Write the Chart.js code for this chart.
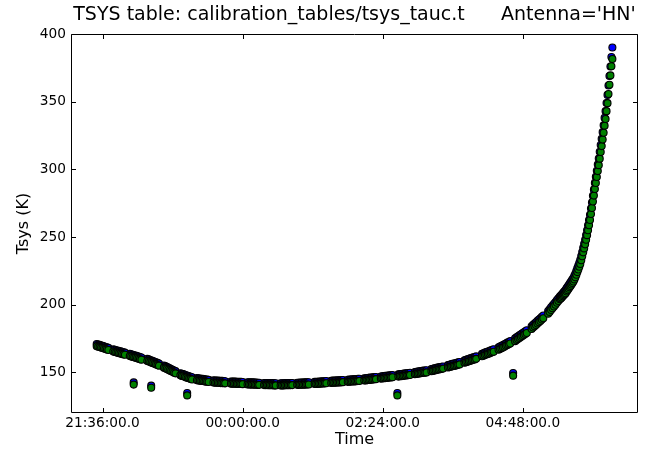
<!DOCTYPE html>
<html><head><meta charset="utf-8">
<script src="https://cdn.jsdelivr.net/npm/chart.js@4/dist/chart.umd.min.js"></script>
<style>html,body{margin:0;padding:0;background:#fff;}canvas{display:block;}</style>
</head><body>
<canvas id="c" width="649" height="452"></canvas>
<script>
const chartTitle = "TSYS table: calibration_tables/tsys_tauc.t      Antenna='HN'";
const xAxisLabel = "Time";
const yAxisLabel = "Tsys (K)";
// x values: minutes after 00:00 of the first day (1440 = next midnight)
const xTicks = [1296, 1440, 1584, 1728];
const yTicks = [150, 200, 250, 300, 350, 400];
const xMin = 1264.6, xMax = 1845.3, yMin = 120, yMax = 400;

// scans: 9 samples each
const times = [
1290,1291.5,1293,1294.5,1296,1297.5,1299,1300.5,1302,
1307,1308.5,1310,1311.5,1313,1314.5,1316,1317.5,1319,
1324,1325.5,1327,1328.5,1330,1331.5,1333,1334.5,1336,
1342,1343.5,1345,1346.5,1348,1349.5,1351,1352.5,1354,
1359,1360.5,1362,1363.5,1365,1366.5,1368,1369.5,1371,
1376,1377.5,1379,1380.5,1382,1383.5,1385,1386.5,1388,
1393,1394.5,1396,1397.5,1399,1400.5,1402,1403.5,1405,
1410,1411.5,1413,1414.5,1416,1417.5,1419,1420.5,1422,
1428,1429.5,1431,1432.5,1434,1435.5,1437,1438.5,1440,
1445,1446.5,1448,1449.5,1451,1452.5,1454,1455.5,1457,
1462,1463.5,1465,1466.5,1468,1469.5,1471,1472.5,1474,
1479,1480.5,1482,1483.5,1485,1486.5,1488,1489.5,1491,
1496,1497.5,1499,1500.5,1502,1503.5,1505,1506.5,1508,
1514,1515.5,1517,1518.5,1520,1521.5,1523,1524.5,1526,
1531,1532.5,1534,1535.5,1537,1538.5,1540,1541.5,1543,
1548,1549.5,1551,1552.5,1554,1555.5,1557,1558.5,1560,
1565,1566.5,1568,1569.5,1571,1572.5,1574,1575.5,1577,
1582,1583.5,1585,1586.5,1588,1589.5,1591,1592.5,1594,
1600,1601.5,1603,1604.5,1606,1607.5,1609,1610.5,1612,
1617,1618.5,1620,1621.5,1623,1624.5,1626,1627.5,1629,
1634,1635.5,1637,1638.5,1640,1641.5,1643,1644.5,1646,
1651,1652.5,1654,1655.5,1657,1658.5,1660,1661.5,1663,
1668,1669.5,1671,1672.5,1674,1675.5,1677,1678.5,1680,
1686,1687.5,1689,1690.5,1692,1693.5,1695,1696.5,1698,
1703,1704.5,1706,1707.5,1709,1710.5,1712,1713.5,1715,
1720,1721.5,1723,1724.5,1726,1727.5,1729,1730.5,1732,
1737,1738.5,1740,1741.5,1743,1744.5,1746,1747.5,1749,
1754,1755.5,1757,1758.5,1760,1761.5,1763,1764.5,1766,
1767,1768,1769,1770,1771,
1772,1773,1774,1775,1776,1777,1778,1779,1780,1781,1782,1783,1784,1785,1786,1787,
1788,1789,1790,1791,1792,1793,1794,1795,1796,1797,1798,1799,1800,1801,1802,1803,
1804,1805,1806,1807,1808,1809,1810,1811,1812,1813,1814,1815,1816,1817,1818,1819,1820
];
const tsysBlue = [
171.0,170.6,170.3,169.9,169.6,169.2,168.8,168.5,168.1,
167.0,166.7,166.4,166.1,165.8,165.5,165.2,164.9,164.6,
163.7,163.4,163.0,162.7,162.4,162.0,161.7,161.3,161.0,
160.0,159.6,159.2,158.7,158.3,157.9,157.5,157.0,156.6,
155.1,154.6,154.1,153.5,153.0,152.5,152.0,151.4,150.9,
149.4,149.0,148.7,148.3,147.9,147.5,147.2,146.8,146.4,
145.8,145.6,145.5,145.3,145.2,145.0,144.8,144.7,144.5,
144.1,144.0,144.0,143.9,143.8,143.7,143.7,143.6,143.5,
143.3,143.3,143.2,143.2,143.1,143.1,143.0,143.0,142.9,
142.7,142.7,142.6,142.6,142.6,142.5,142.5,142.4,142.4,
142.2,142.2,142.2,142.1,142.1,142.1,142.1,142.0,142.0,
142.0,142.0,142.0,142.1,142.1,142.1,142.1,142.2,142.2,
142.4,142.4,142.5,142.5,142.5,142.6,142.6,142.7,142.7,
143.0,143.1,143.1,143.2,143.3,143.4,143.4,143.5,143.6,
143.8,143.9,143.9,144.0,144.1,144.2,144.2,144.3,144.4,
144.6,144.7,144.8,144.9,144.9,145.0,145.1,145.2,145.3,
145.6,145.7,145.9,146.0,146.1,146.2,146.4,146.5,146.6,
147.0,147.1,147.3,147.4,147.5,147.6,147.8,147.9,148.0,
148.5,148.7,148.8,149.0,149.1,149.3,149.4,149.6,149.7,
150.3,150.5,150.6,150.8,151.0,151.1,151.3,151.4,151.6,
152.5,152.7,153.0,153.2,153.5,153.7,153.9,154.2,154.4,
155.4,155.7,156.0,156.3,156.6,156.8,157.1,157.4,157.7,
158.9,159.3,159.6,160.0,160.4,160.7,161.1,161.4,161.8,
163.7,164.1,164.6,165.0,165.4,165.8,166.3,166.7,167.1,
168.5,169.1,169.7,170.2,170.8,171.4,172.0,172.5,173.1,
175.1,175.9,176.6,177.4,178.1,178.9,179.6,180.4,181.1,
184.1,185.1,186.1,187.1,188.1,189.0,190.0,191.0,192.0,
195.4,196.7,198.1,199.4,200.7,202.0,203.4,204.7,206.0,
206.8,207.6,208.5,209.3,210.1,
211.0,212.3,213.3,214.4,215.5,216.5,217.6,218.7,219.8,221.5,223.0,225.0,227.0,229.0,231.0,233.2,
236.0,239.0,242.0,245.0,248.0,251.5,255.0,258.7,262.5,266.5,271.0,275.5,280.5,285.0,290.0,294.5,
299.0,303.5,308.0,313.0,318.0,322.5,327.5,332.5,338.0,343.0,349.0,355.0,362.0,369.0,376.0,383.0,390.0
];
const tsysGreen = [
169.4,169.0,168.7,168.3,168.0,167.6,167.2,166.9,166.5,
165.4,165.1,164.8,164.5,164.2,163.9,163.6,163.3,163.0,
162.1,161.8,161.4,161.1,160.8,160.4,160.1,159.7,159.4,
158.4,158.0,157.6,157.1,156.7,156.3,155.9,155.4,155.0,
153.5,153.0,152.5,151.9,151.4,150.9,150.4,149.8,149.3,
147.8,147.4,147.1,146.7,146.3,145.9,145.6,145.2,144.8,
144.2,144.0,143.9,143.7,143.6,143.4,143.2,143.1,142.9,
142.5,142.4,142.4,142.3,142.2,142.1,142.1,142.0,141.9,
141.7,141.7,141.6,141.6,141.5,141.5,141.4,141.4,141.3,
141.1,141.1,141.0,141.0,141.0,140.9,140.9,140.8,140.8,
140.6,140.6,140.6,140.5,140.5,140.5,140.5,140.4,140.4,
140.4,140.4,140.4,140.5,140.5,140.5,140.5,140.6,140.6,
140.8,140.8,140.9,140.9,140.9,141.0,141.0,141.1,141.1,
141.4,141.5,141.5,141.6,141.7,141.8,141.8,141.9,142.0,
142.2,142.3,142.3,142.4,142.5,142.6,142.6,142.7,142.8,
143.0,143.1,143.2,143.3,143.3,143.4,143.5,143.6,143.7,
144.0,144.1,144.3,144.4,144.5,144.6,144.8,144.9,145.0,
145.4,145.5,145.7,145.8,145.9,146.0,146.2,146.3,146.4,
146.9,147.1,147.2,147.4,147.5,147.7,147.8,148.0,148.1,
148.7,148.9,149.0,149.2,149.4,149.5,149.7,149.8,150.0,
150.9,151.1,151.4,151.6,151.9,152.1,152.3,152.6,152.8,
153.6,153.9,154.2,154.5,154.8,155.0,155.3,155.6,155.9,
157.1,157.5,157.8,158.2,158.6,158.9,159.3,159.6,160.0,
161.9,162.3,162.8,163.2,163.6,164.0,164.5,164.9,165.3,
166.7,167.3,167.9,168.4,169.0,169.6,170.2,170.7,171.3,
173.1,173.9,174.6,175.4,176.1,176.9,177.6,178.4,179.1,
182.1,183.1,184.1,185.1,186.1,187.0,188.0,189.0,190.0,
193.4,194.7,196.1,197.4,198.7,200.0,201.4,202.7,204.0,
204.5,205.3,206.2,207.0,207.7,
208.5,209.8,210.7,211.8,212.9,213.9,214.9,216.0,217.1,218.7,220.2,222.1,224.1,226.0,228.0,230.1,
232.9,235.8,238.7,241.6,244.6,248.0,251.4,255.0,258.7,262.6,267.0,271.4,276.3,280.6,285.5,289.9,
294.3,298.7,303.1,307.9,312.8,317.2,322.1,327.0,332.3,337.2,343.0,348.9,355.7,362.5,369.4,376.2,381.5
];
// isolated low points
const outlierTimes = [1328, 1346, 1383, 1599, 1718];
const outlierBlue  = [142.6, 140.2, 134.8, 134.8, 149.5];
const outlierGreen = [141.0, 138.6, 133.0, 133.0, 147.6];

function toPoints(ts, vs) { return ts.map((t, i) => ({x: t, y: vs[i]})); }
function fmtTime(v) {
  const m = ((Math.round(v) % 1440) + 1440) % 1440;
  const hh = String(Math.floor(m / 60)).padStart(2, '0');
  const mm = String(m % 60).padStart(2, '0');
  return hh + ':' + mm + ':00.0';
}

Chart.defaults.font.family = "'DejaVu Sans', sans-serif";
Chart.defaults.color = '#000';

const frame = {
  id: 'frame',
  afterDraw(chart) {
    const {ctx, chartArea: a, scales} = chart;
    const L = Math.round(a.left) - 0.5, R = Math.round(a.right) + 0.5;
    const T = Math.round(a.top) + 0.5, B = Math.round(a.bottom) - 0.5;
    const len = 4.5;
    ctx.save();
    ctx.strokeStyle = '#000';
    ctx.lineWidth = 1;
    ctx.beginPath();
    ctx.rect(L, T, R - L, B - T);
    scales.x.ticks.forEach(t => {
      const px = Math.round(scales.x.getPixelForValue(t.value)) + 0.5;
      ctx.moveTo(px, B); ctx.lineTo(px, B - len);
      ctx.moveTo(px, T); ctx.lineTo(px, T + len);
    });
    scales.y.ticks.forEach(t => {
      const py = Math.round(scales.y.getPixelForValue(t.value)) + 0.5;
      ctx.moveTo(L, py); ctx.lineTo(L + len, py);
      ctx.moveTo(R, py); ctx.lineTo(R - len, py);
    });
    ctx.stroke();
    ctx.restore();
  }
};

const pointStyle = {showLine: false, pointRadius: 3.5, pointHoverRadius: 3.5, pointBorderWidth: 1.1, pointBorderColor: '#000'};

new Chart(document.getElementById('c'), {
  type: 'scatter',
  data: {
    datasets: [
      Object.assign({label: 'green', data: toPoints(times, tsysGreen).concat(toPoints(outlierTimes, outlierGreen)),
        pointBackgroundColor: '#008000', order: 0}, pointStyle),
      Object.assign({label: 'blue', data: toPoints(times, tsysBlue).concat(toPoints(outlierTimes, outlierBlue)),
        pointBackgroundColor: '#0000ff', order: 1}, pointStyle)
    ]
  },
  options: {
    responsive: false,
    animation: false,
    events: [],
    layout: {padding: {left: 0, right: 12, top: 0, bottom: 0}},
    plugins: {
      legend: {display: false},
      tooltip: {enabled: false},
      title: {display: true, text: chartTitle, fullSize: false, color: '#000',
        font: {size: 19, weight: 'normal', lineHeight: 1.2}, padding: {top: 4, bottom: 7.2}}
    },
    scales: {
      x: {
        type: 'linear', min: xMin, max: xMax,
        grid: {display: false, drawTicks: false}, border: {display: false},
        afterBuildTicks: s => { s.ticks = xTicks.map(v => ({value: v})); },
        afterFit: s => { s.height = 39; },
        ticks: {font: {size: 13.7}, padding: 2, maxRotation: 0, autoSkip: false, callback: v => fmtTime(v)},
        title: {display: true, text: xAxisLabel, font: {size: 16, lineHeight: 1.2}, padding: {top: 0, bottom: 2.4}}
      },
      y: {
        min: yMin, max: yMax,
        grid: {display: false, drawTicks: false}, border: {display: false},
        afterBuildTicks: s => { s.ticks = yTicks.map(v => ({value: v})); },
        afterFit: s => { s.width = 72; },
        ticks: {font: {size: 13.7}, padding: 6, autoSkip: false, callback: v => String(v)},
        title: {display: true, text: yAxisLabel, font: {size: 16, lineHeight: 1.2}, padding: {top: 14.4, bottom: 0}}
      }
    }
  },
  plugins: [frame]
});
</script>
</body></html>
